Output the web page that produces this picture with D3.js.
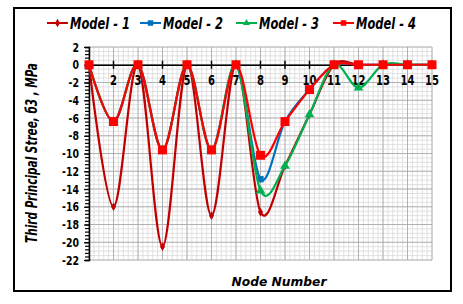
<!DOCTYPE html>
<html>
<head>
<meta charset="utf-8">
<script src="https://cdn.jsdelivr.net/npm/d3@7"></script>
<style>
  body { margin: 0; background: #fff; }
  text { font-family: "DejaVu Sans", sans-serif; font-weight: bold; }
</style>
</head>
<body>
<svg id="chart" width="463" height="304"></svg>
<script>
// node numbers along x
var nodes = [1, 2, 3, 4, 5, 6, 7, 8, 9, 10, 11, 12, 13, 14, 15];

// third principal stress (MPa) per model
var model1 = [0, -16, 0, -20.5, 0, -17, 0, -16.6, -11.4, -5.6, 0, 0, 0, 0, 0];
var model2 = [0, -6.4, 0, -9.6, 0, -9.6, 0, -12.9, -6.4, -2.8, 0, 0, 0, 0, 0];
var model3 = [0, -6.4, 0, -9.6, 0, -9.6, 0, -14.2, -11.4, -5.6, 0, -2.6, 0, 0, 0];
var model4 = [0, -6.4, 0, -9.6, 0, -9.6, 0, -10.2, -6.4, -2.8, 0, 0, 0, 0, 0];

var seriesNames = ["Model - 1", "Model - 2", "Model - 3", "Model - 4"];
var xTickLabels = [2, 3, 4, 5, 6, 7, 8, 9, 10, 11, 12, 13, 14, 15];
var yTickLabels = [2, 0, -2, -4, -6, -8, -10, -12, -14, -16, -18, -20, -22];

var svg = d3.select("#chart");

// squeeze a text horizontally so it takes a given width
function squeeze(sel, px, py, rot, width, anchor) {
  var w = sel.node().getComputedTextLength();
  var s = Math.min(1, width / w);
  sel.attr("text-anchor", anchor)
    .attr("transform", "translate(" + px + "," + py + ") rotate(" + rot + ") scale(" + s + ",1)");
}

// outer frame
svg.append("rect")
  .attr("x", 14).attr("y", 8)
  .attr("width", 437).attr("height", 283)
  .attr("fill", "#fff").attr("stroke", "#000").attr("stroke-width", 2);

var x = d3.scaleLinear().domain([1, 15]).range([89, 432]);
var y = d3.scaleLinear().domain([2, -22]).range([47, 260]);

var grid = svg.append("g");

// minor vertical grid
d3.range(1, 15.001, 0.2).forEach(function (v) {
  grid.append("line")
    .attr("x1", x(v)).attr("x2", x(v))
    .attr("y1", y(2)).attr("y2", y(-22))
    .attr("stroke", "#d9d9d9").attr("stroke-width", 0.8);
});
// minor horizontal grid
d3.range(-22, 2.001, 0.5).forEach(function (v) {
  grid.append("line")
    .attr("x1", x(1)).attr("x2", x(15))
    .attr("y1", y(v)).attr("y2", y(v))
    .attr("stroke", "#d9d9d9").attr("stroke-width", 0.8);
});
// major vertical grid
nodes.forEach(function (v) {
  grid.append("line")
    .attr("x1", x(v)).attr("x2", x(v))
    .attr("y1", y(2)).attr("y2", y(-22))
    .attr("stroke", "#a6a6a6").attr("stroke-width", 0.8);
});
// major horizontal grid
yTickLabels.forEach(function (v) {
  grid.append("line")
    .attr("x1", x(1)).attr("x2", x(15))
    .attr("y1", y(v)).attr("y2", y(v))
    .attr("stroke", "#a6a6a6").attr("stroke-width", 0.8);
});

// y axis with minor ticks
var yAxisMinor = d3.axisLeft(y).tickValues(d3.range(-22, 2.001, 0.4)).tickSize(4).tickFormat("");
svg.append("g").attr("transform", "translate(" + x(1) + ",0)").call(yAxisMinor)
  .call(function (g) { g.selectAll("line").attr("stroke-width", 1.2); g.select(".domain").attr("stroke-width", 1.5); });

var yAxis = d3.axisLeft(y).tickValues(yTickLabels).tickSize(5).tickFormat("");
svg.append("g").attr("transform", "translate(" + x(1) + ",0)").call(yAxis)
  .call(function (g) {
    g.select(".domain").remove();
    g.selectAll("line").attr("stroke-width", 1.2);
  });

// y tick labels, horizontally squeezed to look condensed
svg.append("g").selectAll("text").data(yTickLabels).enter().append("text")
  .attr("transform", function (d) { return "translate(79," + (y(d) + 4.5) + ") scale(0.75,1)"; })
  .attr("text-anchor", "end")
  .attr("font-size", 12.5)
  .text(function (d) { return d; });

// x axis at zero line
var xAxis = d3.axisBottom(x).tickValues(nodes).tickSize(0).tickFormat("");
svg.append("g").attr("transform", "translate(0," + y(0) + ")").call(xAxis)
  .call(function (g) { g.select(".domain").attr("stroke", "#000").attr("stroke-width", 1.5); });

nodes.slice(1).forEach(function (v) {
  svg.append("line")
    .attr("x1", x(v)).attr("x2", x(v))
    .attr("y1", y(0) - 4).attr("y2", y(0) + 4)
    .attr("stroke", "#000").attr("stroke-width", 1.5);
});
svg.append("g").selectAll("text").data(xTickLabels).enter().append("text")
  .attr("transform", function (d) { return "translate(" + x(d) + "," + (y(0) + 20) + ") scale(0.72,1)"; })
  .attr("text-anchor", "middle")
  .attr("font-size", 14)
  .text(function (d) { return d; });

// series
var series = [
  { name: seriesNames[0], values: model1, color: "#c00000", marker: "diamond", size: 22 },
  { name: seriesNames[1], values: model2, color: "#0070c0", marker: "square", size: 40 },
  { name: seriesNames[2], values: model3, color: "#00b050", marker: "triangle", size: 40 },
  { name: seriesNames[3], values: model4, color: "#ff0000", marker: "square", size: 80 }
];
var symbols = { diamond: d3.symbolDiamond, square: d3.symbolSquare, triangle: d3.symbolTriangle };

var line = d3.line()
  .x(function (d, i) { return x(nodes[i]); })
  .y(function (d) { return y(d); })
  .curve(d3.curveCardinal.tension(0));

series.forEach(function (s) {
  svg.append("path")
    .datum(s.values)
    .attr("d", line)
    .attr("fill", "none")
    .attr("stroke", s.color)
    .attr("stroke-width", 2.2);
  svg.append("g").selectAll("path").data(s.values).enter().append("path")
    .attr("transform", function (d, i) { return "translate(" + x(nodes[i]) + "," + y(d) + ")"; })
    .attr("d", d3.symbol().type(symbols[s.marker]).size(s.size))
    .attr("fill", s.color);
});

// legend
var legendX = [47, 140, 236, 333];
series.forEach(function (s, i) {
  var lg = svg.append("g").attr("transform", "translate(" + legendX[i] + ",23)");
  lg.append("line").attr("x1", 0).attr("x2", 21).attr("y1", 0).attr("y2", 0)
    .attr("stroke", s.color).attr("stroke-width", 2);
  lg.append("path").attr("transform", "translate(10.5,0)")
    .attr("d", d3.symbol().type(symbols[s.marker]).size(s.marker === "square" ? 30 : 22))
    .attr("fill", s.color);
  var t = lg.append("text")
    .attr("font-size", 15).attr("font-style", "italic")
    .text(s.name);
  squeeze(t, 23, 5.5, 0, 60, "start");
});

// axis titles
var yTitle = svg.append("text")
  .attr("font-size", 15.5).attr("font-style", "italic")
  .text("Third Principal Stree, б3 , MPa");
squeeze(yTitle, 37, 153, -90, 180, "middle");

var xTitle = svg.append("text")
  .attr("font-size", 12.5).attr("font-style", "italic")
  .text("Node Number");
squeeze(xTitle, 279, 286, 0, 95, "middle");
</script>
</body>
</html>
